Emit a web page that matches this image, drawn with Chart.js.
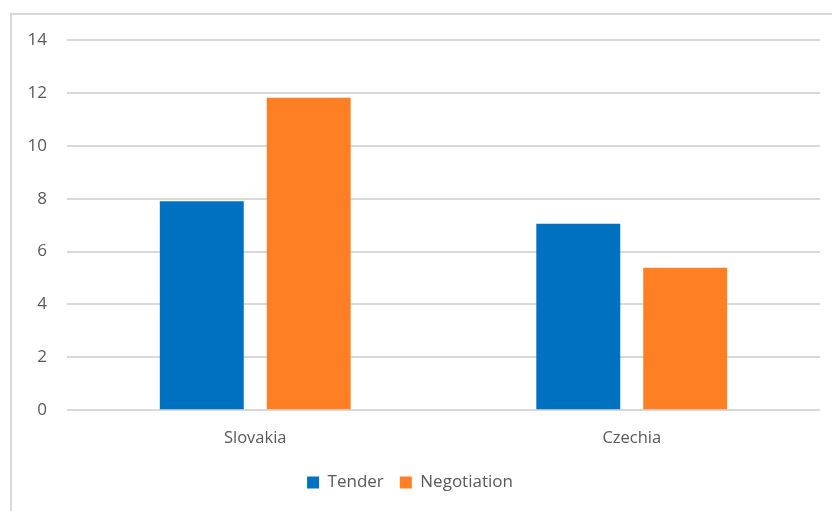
<!DOCTYPE html>
<html>
<head>
<meta charset="utf-8">
<script src="https://cdn.jsdelivr.net/npm/chart.js@4/dist/chart.umd.min.js"></script>
<style>
  html, body { margin: 0; padding: 0; background: #fff; }
  #frame {
    position: absolute; left: 10px; top: 13px; width: 830px; height: 510px;
    border-left: 2px solid #d9d9d9; border-top: 2px solid #d9d9d9;
  }
  #wrap { position: absolute; left: 0; top: 0; width: 832px; height: 511px; }
</style>
</head>
<body>
<div id="frame"></div>
<div id="wrap"><canvas id="chart"></canvas></div>
<script>
// 국가별 값
const categories = ['Slovakia', 'Czechia'];
const tenderValues = [7.9, 7.05];
const negotiationValues = [11.82, 5.39];
const yTicks = [0, 2, 4, 6, 8, 10, 12, 14];

const textColor = '#595959';
const fontFamily = "'Open Sans', 'Liberation Sans', sans-serif";

const ctx = document.getElementById('chart').getContext('2d');
const chart = new Chart(ctx, {
    type: 'bar',
    data: {
        labels: categories,
        datasets: [
            {
                label: 'Tender',
                data: tenderValues,
                backgroundColor: '#0070c0'
            },
            {
                label: 'Negotiation',
                data: negotiationValues,
                backgroundColor: '#ff7f24'
            }
        ]
    },
    options: {
        responsive: true,
        maintainAspectRatio: false,
        animation: false,
        categoryPercentage: 0.568,
        barPercentage: 0.785,
        layout: {
            padding: { top: 40, right: 12, bottom: 10, left: 0 }
        },
        plugins: {
            legend: {
                position: 'bottom',
                labels: {
                    color: textColor,
                    font: { family: fontFamily, size: 17 },
                    boxWidth: 12,
                    boxHeight: 12,
                    padding: 16
                }
            },
            tooltip: { enabled: false }
        },
        scales: {
            x: {
                grid: { display: false },
                border: { display: false },
                ticks: {
                    color: textColor,
                    font: { family: fontFamily, size: 16.5 },
                    padding: 10
                }
            },
            y: {
                min: 0,
                max: 14,
                afterFit: (scale) => { scale.width = 67; },
                afterBuildTicks: (scale) => {
                    scale.ticks = yTicks.map(v => ({ value: v }));
                },
                grid: { color: '#d9d9d9', lineWidth: 2, drawTicks: false },
                border: { display: false },
                ticks: {
                    color: textColor,
                    font: { family: fontFamily, size: 17 },
                    padding: 20
                }
            }
        }
    }
});
</script>
</body>
</html>
